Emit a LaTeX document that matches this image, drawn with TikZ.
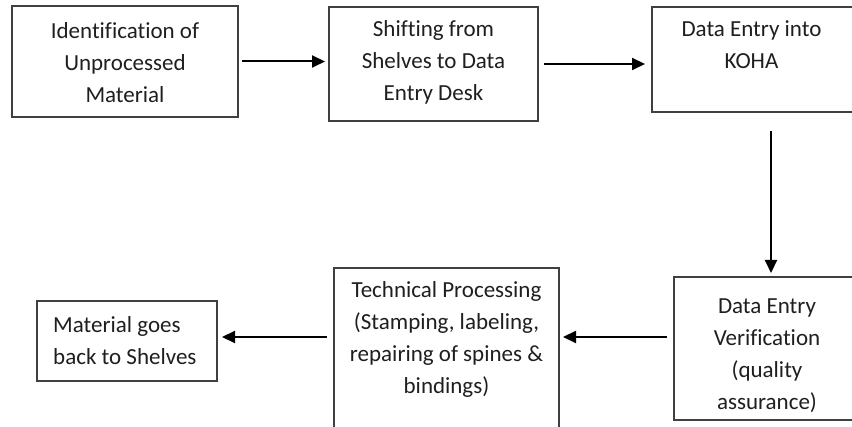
\documentclass[tikz,border=0pt]{standalone}
\usepackage{fontspec}
\setmainfont{Carlito}[Ligatures=NoCommon]
\usetikzlibrary{arrows.meta,calc}
\begin{document}
\begin{tikzpicture}[x=1pt,y=-1pt,
  box/.style={draw=black!75, line width=1.2pt, inner sep=0pt, outer sep=0pt, rectangle, anchor=north west},
  txt/.style={font=\fontsize{23}{32}\selectfont, text=black!88, inner sep=0pt, anchor=north, align=center},
  arr/.style={draw=black, line width=2pt, -{Triangle[length=13pt,width=12pt]}}]
\useasboundingbox (0,0) rectangle (852,427);
\fill[white] (0,0) rectangle (852,427);
\begin{scope}
\clip (0,0) rectangle (852,427);
% boxes
\node[box, minimum width=226pt, minimum height=111pt] (b1) at (12,6) {};
\node[box, minimum width=209pt, minimum height=114pt] (b2) at (329,7) {};
\node[box, minimum width=206pt, minimum height=105pt] (b3) at (652,7) {};
\node[box, minimum width=190pt, minimum height=143pt] (b4) at (674,277) {};
\node[box, minimum width=225pt, minimum height=175pt] (b5) at (334,268) {};
\node[box, minimum width=180pt, minimum height=80pt] (b6) at (37,301) {};
% texts
\node[txt] (t1) at (125,15.6) {\strut Identification of\\Unprocessed\\Material};
\node[txt] (t2) at (433.5,13.6) {\strut Shifting from\\Shelves to Data\\Entry Desk};
\node[txt] (t3) at (751.5,13.6) {\strut Data Entry into\\KOHA};
\node[txt] (t4) at (767,290.6) {\strut Data Entry\\Verification\\(quality\\assurance)};
\node[txt] (t5) at (446.5,274.6) {\strut Technical Processing\\(Stamping, labeling,\\repairing of spines \&\\bindings)};
\node[txt, anchor=north west, align=left] (t6) at (53,309.6) {\strut Material goes\\back to Shelves};
% connectors
\draw[arr, shorten <=4pt, shorten >=4pt] (b1.east) -- (b1.east -| b2.west);
\draw[arr, shorten <=6pt, shorten >=7pt] (b2.east) -- (b2.east -| b3.west);
\coordinate (d3) at (771,112);
\draw[arr, shorten <=19pt, shorten >=4pt] (d3) -- (d3 |- b4.north);
\coordinate (h4) at (674,337);
\draw[arr, shorten <=7pt, shorten >=4pt] (h4 -| b4.west) -- (h4 -| b5.east);
\draw[arr, shorten <=7pt, shorten >=5pt] (h4 -| b5.west) -- (h4 -| b6.east);
\end{scope}
\end{tikzpicture}
\end{document}
